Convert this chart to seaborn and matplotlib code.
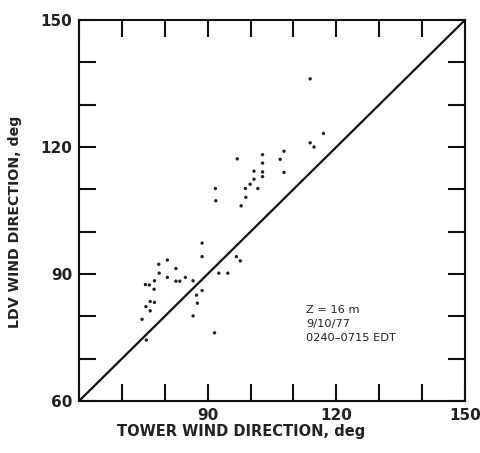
import matplotlib
matplotlib.use("Agg")
import matplotlib.pyplot as plt
import seaborn as sns
import pandas as pd

tower = [96.9, 91.8, 91.9, 98.8, 98.9, 97.8, 99.9, 100.8, 100.8, 101.7,
         88.7, 88.7, 78.6, 80.6, 78.7, 82.6, 80.6, 82.6, 83.5, 84.8,
         86.6, 92.6, 94.7, 96.7, 97.6, 75.5, 76.4, 77.6, 77.5, 75.6,
         76.6, 77.6, 76.6, 74.7, 75.7, 87.4, 87.6, 88.7, 86.6, 91.6,
         113.9, 102.8, 102.8, 102.8, 102.8, 106.9, 107.8, 107.8, 113.9, 114.8, 117.0]
ldv = [117.2, 110.2, 107.3, 110.2, 108.1, 106.1, 111.2, 114.3, 112.4, 110.2,
       97.3, 94.1, 92.3, 93.3, 90.2, 91.3, 89.2, 88.3, 88.3, 89.2,
       88.4, 90.2, 90.2, 94.1, 93.1, 87.5, 87.4, 88.4, 86.4, 82.3,
       83.5, 83.3, 81.3, 79.3, 74.4, 85.0, 83.1, 86.1, 80.1, 76.1,
       136.1, 118.2, 116.2, 114.1, 113.0, 117.1, 119.0, 114.0, 121.0, 120.0, 123.2]
line_x = [60, 150]
line_y = [60, 150]
x_ticklabels = ["", "", "", "90", "", "", "120", "", "", "150"]
y_ticklabels = ["60", "", "", "90", "", "", "120", "", "", "150"]
ticks = [60, 70, 80, 90, 100, 110, 120, 130, 140, 150]
annotation = ["Z = 16 m", "9/10/77", "0240\u20130715 EDT"]

sns.set_style("ticks")
plt.rcParams['font.family'] = ['DejaVu Sans']

fig = plt.figure(figsize=(4.81, 4.53), dpi=100)
ax = fig.add_axes([79/481, 1-401/453, (465-79)/481, (401-20)/453])

df = pd.DataFrame({"tower": tower, "ldv": ldv})
sns.scatterplot(data=df, x="tower", y="ldv", ax=ax, color="#222222", s=6,
                edgecolor="none", zorder=3)
sns.lineplot(x=line_x, y=line_y, ax=ax, color="#111111", linewidth=1.6)

ax.set_xlim(60, 150)
ax.set_ylim(60, 150)
ax.set_xticks(ticks)
ax.set_yticks(ticks)
ax.set_xticklabels(x_ticklabels, fontsize=11, fontweight="bold", color="#222222")
ax.set_yticklabels(y_ticklabels, fontsize=11, fontweight="bold", color="#222222")
ax.tick_params(direction="in", length=12, width=1.5, top=True, right=True,
               color="#111111", pad=5)
for s in ax.spines.values():
    s.set_linewidth(1.5)
    s.set_color("#111111")
    s.set_visible(True)

ax.set_xlabel("TOWER WIND DIRECTION, deg", fontsize=10.5, fontweight="bold",
              color="#222222", labelpad=1, x=0.42)
ax.set_ylabel("LDV WIND DIRECTION, deg", fontsize=10.2, fontweight="bold",
              color="#222222", labelpad=13, y=0.47)

for i, t in enumerate(annotation):
    ax.text(113.0, 81.5 - i * 3.3, t, fontsize=8.2, color="#222222",
            va="center", ha="left")

fig.savefig("out.png", dpi=100, facecolor="white")
